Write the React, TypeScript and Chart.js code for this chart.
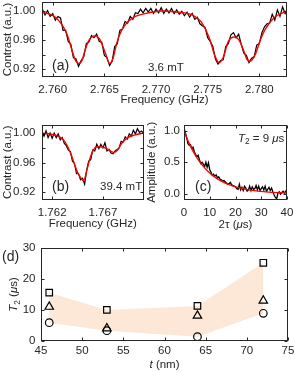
import React, { useEffect, useRef } from "react";
import { Chart, registerables } from "chart.js";

Chart.register(...registerables);

const W = 295;
const H = 372;
const FAMILY = '"Liberation Sans", Arial, Helvetica, sans-serif';
const INK = "#262626";
const RED = "#ff0000";
const BAND = "rgb(253,231,214)";
const TICK_FONT = 11.5;

// ---------- Panel (a): ODMR spectrum at 3.6 mT ----------
const A_FREQ = [
  2.759, 2.75925, 2.7595, 2.75975, 2.76, 2.76025, 2.7605, 2.76075, 2.761, 2.76125,
  2.7615, 2.76175, 2.762, 2.76225, 2.7625, 2.76275, 2.763, 2.76325, 2.7635, 2.76375,
  2.764, 2.76425, 2.7645, 2.76475, 2.765, 2.76525, 2.7655, 2.76575, 2.766, 2.76625,
  2.7665, 2.76675, 2.767, 2.76725, 2.7675, 2.76775, 2.768, 2.76825, 2.7685, 2.76875,
  2.769, 2.76925, 2.7695, 2.76975, 2.77, 2.77025, 2.7705, 2.77075, 2.771, 2.77125,
  2.7715, 2.77175, 2.772, 2.77225, 2.7725, 2.77275, 2.773, 2.77325, 2.7735, 2.77375,
  2.774, 2.77425, 2.7745, 2.77475, 2.775, 2.77525, 2.7755, 2.77575, 2.776, 2.77625,
  2.7765, 2.77675, 2.777, 2.77725, 2.7775, 2.77775, 2.778, 2.77825, 2.7785, 2.77875,
  2.779, 2.77925, 2.7795, 2.77975, 2.78, 2.78025, 2.7805, 2.78075, 2.781, 2.78125,
  2.7815, 2.78175, 2.782, 2.78225, 2.7825, 2.78275,
];
const A_DATA = [
  1.002, 0.994, 1.0, 0.992, 0.996, 0.987, 0.992, 0.99, 0.973, 0.973,
  0.958, 0.954, 0.936, 0.934, 0.924, 0.932, 0.937, 0.955, 0.957, 0.966,
  0.963, 0.968, 0.958, 0.957, 0.939, 0.936, 0.925, 0.931, 0.951, 0.955,
  0.973, 0.975, 0.985, 0.983, 0.992, 0.988, 0.997, 0.996, 1.002, 0.997,
  1.003, 0.998, 1.003, 0.996, 1.002, 0.997, 1.004, 0.996, 1.002, 0.997,
  1.003, 0.996, 1.001, 0.995, 0.999, 0.993, 0.998, 0.991, 0.996, 0.988,
  0.991, 0.982, 0.979, 0.977, 0.963, 0.958, 0.951, 0.934, 0.927, 0.932,
  0.933, 0.951, 0.955, 0.967, 0.97, 0.963, 0.968, 0.954, 0.942, 0.939,
  0.929, 0.935, 0.937, 0.953, 0.955, 0.97, 0.978, 0.982, 0.983, 0.995,
  0.987, 1.001, 0.992, 1.005, 0.996, 1.003,
];
const A_FIT_FREQ = [
  2.7589, 2.7599, 2.76054, 2.7612, 2.7615, 2.76184, 2.76216, 2.7625, 2.7628, 2.76315,
  2.7635, 2.7641, 2.7645, 2.7648, 2.76515, 2.7655, 2.76585, 2.7662, 2.7667, 2.7673,
  2.768, 2.7693, 2.7705, 2.772, 2.7735, 2.7745, 2.7752, 2.77571, 2.7761, 2.7765,
  2.777, 2.7776, 2.778, 2.77845, 2.7788, 2.7791, 2.7796, 2.7801, 2.78055, 2.7814,
  2.7827,
];
const A_FIT = [
  0.998, 0.994, 0.987, 0.9735, 0.963, 0.947, 0.9335, 0.928, 0.931, 0.947,
  0.9595, 0.9655, 0.962, 0.953, 0.94, 0.928, 0.9355, 0.956, 0.974, 0.985,
  0.992, 0.997, 0.9995, 0.998, 0.994, 0.982, 0.961, 0.938, 0.929, 0.936,
  0.958, 0.964, 0.9605, 0.947, 0.9335, 0.931, 0.94, 0.96, 0.974, 0.99,
  0.9995,
];
const A_X_TICKS = [2.76, 2.765, 2.77, 2.775, 2.78];
const A_Y_TICKS = [0.92, 0.94, 0.96, 0.98, 1.0];
const AB_Y_LABELED = [0.92, 0.96, 1.0];

// ---------- Panel (b): ODMR spectrum at 39.4 mT ----------
const B_FREQ = [
  1.761, 1.7612, 1.7614, 1.7616, 1.7618, 1.762, 1.7622, 1.7624, 1.7626, 1.7628,
  1.763, 1.7632, 1.7634, 1.7636, 1.7638, 1.764, 1.7642, 1.7644, 1.7646, 1.7648,
  1.765, 1.7652, 1.7654, 1.7656, 1.7658, 1.766, 1.7662, 1.7664, 1.7666, 1.7668,
  1.767, 1.7672, 1.7674, 1.7676, 1.7678, 1.768, 1.7682, 1.7684, 1.7686, 1.7688,
  1.769, 1.7692, 1.7694, 1.7696, 1.7698, 1.77, 1.7702, 1.7704, 1.7706, 1.7708,
  1.771,
];
const B_DATA = [
  1.002, 0.996, 1.003, 0.994, 1.0, 0.993, 1.0, 0.994, 0.999, 0.991,
  0.994, 0.986, 0.983, 0.977, 0.975, 0.962, 0.959, 0.945, 0.945, 0.937,
  0.939, 0.931, 0.95, 0.962, 0.964, 0.977, 0.976, 0.985, 0.979, 0.985,
  0.98, 0.987, 0.976, 0.978, 0.973, 0.972, 0.976, 0.978, 0.98, 0.989,
  0.988, 0.995, 0.992, 0.999, 0.996, 1.004, 0.999, 1.006, 1.001, 1.003,
  1.0,
];
const B_FIT_FREQ = [
  1.761, 1.7621, 1.763, 1.76345, 1.76394, 1.76426, 1.76459, 1.76492, 1.7651, 1.7654,
  1.76573, 1.76605, 1.7664, 1.7669, 1.76737, 1.76786, 1.7681, 1.7684, 1.76884, 1.7693,
  1.77, 1.771,
];
const B_FIT = [
  1.0, 0.998, 0.9925, 0.984, 0.9685, 0.9554, 0.9444, 0.9378, 0.9355, 0.9488,
  0.966, 0.977, 0.9815, 0.9812, 0.979, 0.975, 0.9738, 0.9764, 0.986, 0.9925,
  0.997, 1.0,
];
const B_X_TICKS = [1.762, 1.767];
const B_Y_TICKS = [0.92, 0.94, 0.96, 0.98, 1.0];

// ---------- Panel (c): Hahn echo decay ----------
const C_TIME = [
  0, 0.5, 1, 1.5, 2, 2.5, 3, 3.5, 4, 4.5,
  5, 5.5, 6, 6.5, 7, 7.5, 8, 8.5, 9, 9.5,
  10, 10.5, 11, 11.5, 12, 12.5, 13, 13.5, 14, 14.5,
  15, 15.5, 16, 16.5, 17, 17.5, 18, 18.5, 19, 19.5,
  20, 20.5, 21, 21.5, 22, 22.5, 23, 23.5, 24, 24.5,
  25, 25.5, 26, 26.5, 27, 27.5, 28, 28.5, 29, 29.5,
  30, 30.5, 31, 31.5, 32, 32.5, 33, 33.5, 34, 34.5,
  35, 35.5, 36, 36.5, 37, 37.5, 38, 38.5, 39, 39.5,
  40,
];
const C_DATA = [
  1.05, 0.97, 0.9, 0.8, 0.77, 0.78, 0.72, 0.74, 0.67, 0.62,
  0.59, 0.61, 0.54, 0.48, 0.5, 0.47, 0.43, 0.5, 0.42, 0.49,
  0.38, 0.34, 0.29, 0.31, 0.28, 0.3, 0.25, 0.27, 0.23, 0.22,
  0.2, 0.21, 0.19, 0.17, 0.15, 0.16, 0.18, 0.14, 0.13, 0.12,
  0.11, 0.08, 0.07, 0.15, 0.06, 0.1, 0.05, 0.12, 0.09, 0.04,
  0.06, 0.12, 0.05, 0.11, 0.07, 0.08, 0.13, 0.06, 0.12, 0.05,
  0.08, 0.11, 0.06, 0.12, 0.04, 0.07, 0.1, 0.05, 0.09, 0.03,
  -0.02, -0.06, -0.08, 0.01, 0.03, -0.01, 0.02, 0.04, 0.01, 0.04,
  0.03,
];
const C_FIT_TIME = [0, 1, 2, 3, 4, 5, 6, 8, 10, 12, 14, 16, 18, 20, 24, 28, 32, 36, 40];
const C_FIT = [
  1.0, 0.895, 0.8, 0.717, 0.641, 0.574, 0.513, 0.411, 0.329, 0.264,
  0.211, 0.169, 0.135, 0.108, 0.069, 0.045, 0.029, 0.018, 0.012,
];
const C_X_TICKS = [0, 10, 20, 30, 40];
const C_Y_TICKS = [0, 0.5, 1];

// ---------- Panel (d): T2 vs thickness ----------
const D_THICKNESS = [46, 53, 64, 72];
const D_SQUARES = [15.6, 10.0, 11.3, 25.3];
const D_TRIANGLES = [11.0, 4.0, 8.1, 13.0];
const D_CIRCLES = [5.85, 3.25, 1.3, 8.9];
const D_X_TICKS = [45, 50, 55, 60, 65, 70, 75];
const D_Y_TICKS = [0, 10, 20, 30];

// ---------- helpers ----------
type Run = { t: string; it?: boolean; sub?: boolean };
type Area = { left: number; right: number; top: number; bottom: number };
type Note = {
  runs: Run[];
  size: number;
  align: "left" | "center";
  rotate?: boolean;
  at: (a: Area) => [number, number];
};
type AxisSpec = {
  min: number;
  max: number;
  ticks: number[];
  fmt: (v: number) => string;
  pad: number;
};
type PanelSpec = {
  datasets: any[];
  x: AxisSpec;
  y: AxisSpec;
  padding: { left: number; top: number; right: number; bottom: number };
  notes: Note[];
};

const pts = (xs: number[], ys: number[]) => xs.map((x, i) => ({ x, y: ys[i] }));
const plain = (t: string): Run[] => [{ t }];
const midX = (a: Area) => (a.left + a.right) / 2;
const midY = (a: Area) => (a.top + a.bottom) / 2;

function drawNote(ctx: CanvasRenderingContext2D, n: Note, a: Area) {
  const [x, y] = n.at(a);
  const fontOf = (r: Run) =>
    `${r.it ? "italic " : ""}${r.sub ? n.size * 0.72 : n.size}px ${FAMILY}`;
  let total = 0;
  for (const r of n.runs) {
    ctx.font = fontOf(r);
    total += ctx.measureText(r.t).width;
  }
  ctx.save();
  ctx.translate(x, y);
  if (n.rotate) ctx.rotate(-Math.PI / 2);
  ctx.fillStyle = INK;
  ctx.textBaseline = "middle";
  ctx.textAlign = "left";
  let cx = n.align === "center" ? -total / 2 : 0;
  for (const r of n.runs) {
    ctx.font = fontOf(r);
    ctx.fillText(r.t, cx, r.sub ? n.size * 0.3 : 0);
    cx += ctx.measureText(r.t).width;
  }
  ctx.restore();
}

function framePlugin(notes: Note[]) {
  return {
    id: "frameAndNotes",
    afterDraw(chart: any) {
      const { ctx, chartArea: a, scales } = chart;
      const L = Math.round(a.left) + 0.5;
      const R = Math.round(a.right) - 0.5;
      const T = Math.round(a.top) + 0.5;
      const B = Math.round(a.bottom) - 0.5;
      const len = 3;
      ctx.save();
      ctx.strokeStyle = INK;
      ctx.lineWidth = 1;
      ctx.beginPath();
      for (const t of scales.x.ticks) {
        const p = Math.round(scales.x.getPixelForValue(t.value)) + 0.5;
        ctx.moveTo(p, B);
        ctx.lineTo(p, B - len);
        ctx.moveTo(p, T);
        ctx.lineTo(p, T + len);
      }
      for (const t of scales.y.ticks) {
        const p = Math.round(scales.y.getPixelForValue(t.value)) + 0.5;
        ctx.moveTo(L, p);
        ctx.lineTo(L + len, p);
        ctx.moveTo(R, p);
        ctx.lineTo(R - len, p);
      }
      ctx.stroke();
      ctx.strokeRect(L, T, R - L, B - T);
      ctx.restore();
      for (const n of notes) drawNote(ctx, n, a);
    },
  };
}

function axis(s: AxisSpec, dir: "x" | "y") {
  return {
    type: "linear",
    position: dir === "x" ? "bottom" : "left",
    min: s.min,
    max: s.max,
    grid: { display: false, drawTicks: false },
    border: { display: false },
    ticks: {
      autoSkip: false,
      maxRotation: 0,
      minRotation: 0,
      padding: s.pad,
      color: INK,
      font: { family: FAMILY, size: TICK_FONT },
      callback: (v: any) => s.fmt(Number(v)),
    },
    afterBuildTicks: (sc: any) => {
      sc.ticks = s.ticks.map((v) => ({ value: v }));
    },
    afterFit: (sc: any) => {
      if (dir === "x") sc.height = 30;
      else sc.width = 40;
      sc.paddingLeft = 0;
      sc.paddingRight = 0;
      sc.paddingTop = 0;
      sc.paddingBottom = 0;
    },
  };
}

function buildConfig(spec: PanelSpec): any {
  return {
    type: "line",
    data: { datasets: spec.datasets },
    options: {
      responsive: false,
      animation: false,
      devicePixelRatio: 1,
      events: [],
      layout: { padding: spec.padding },
      plugins: { legend: { display: false }, tooltip: { enabled: false } },
      scales: { x: axis(spec.x, "x"), y: axis(spec.y, "y") },
    },
    plugins: [framePlugin(spec.notes)],
  };
}

const near = (list: number[], v: number) => list.some((u) => Math.abs(u - v) < 1e-9);

const fitLine = (data: any[]) => ({
  data,
  borderColor: RED,
  borderWidth: 1.4,
  pointRadius: 0,
  cubicInterpolationMode: "monotone",
  fill: false,
  order: 0,
});
const rawLine = (data: any[], width: number) => ({
  data,
  borderColor: "#000",
  borderWidth: width,
  pointRadius: 0,
  tension: 0,
  fill: false,
  order: 1,
});
const markers = (data: any[], style: string, radius: number, order: number) => ({
  data,
  showLine: false,
  pointStyle: style,
  pointRadius: radius,
  pointBorderWidth: 1.2,
  pointBorderColor: "#000",
  pointBackgroundColor: "rgba(0,0,0,0)",
  borderColor: "#000",
  fill: false,
  order,
});

const contrastFmt = (v: number) => (near(AB_Y_LABELED, v) ? v.toFixed(2) : "");

const PANELS: PanelSpec[] = [
  {
    datasets: [fitLine(pts(A_FIT_FREQ, A_FIT)), rawLine(pts(A_FREQ, A_DATA), 1.2)],
    x: { min: 2.75896, max: 2.78268, ticks: A_X_TICKS, fmt: (v) => v.toFixed(3), pad: 6 },
    y: { min: 0.9095, max: 1.0117, ticks: A_Y_TICKS, fmt: contrastFmt, pad: 6.5 },
    padding: { left: 2, top: 2, right: 8, bottom: 265 },
    notes: [
      { runs: plain("(a)"), size: 14, align: "left", at: (a) => [a.left + 10, a.bottom - 10.5] },
      { runs: plain("3.6 mT"), size: 11.5, align: "left", at: (a) => [a.left + 106, a.bottom - 9] },
      { runs: plain("Contrast (a.u.)"), size: 11.5, align: "center", rotate: true, at: (a) => [a.left - 34.5, midY(a)] },
      { runs: plain("Frequency (GHz)"), size: 11.5, align: "center", at: (a) => [midX(a), a.bottom + 23] },
    ],
  },
  {
    datasets: [fitLine(pts(B_FIT_FREQ, B_FIT)), rawLine(pts(B_FREQ, B_DATA), 1.2)],
    x: { min: 1.761, max: 1.771, ticks: B_X_TICKS, fmt: (v) => v.toFixed(3), pad: 6 },
    y: { min: 0.9095, max: 1.0117, ticks: B_Y_TICKS, fmt: contrastFmt, pad: 6.5 },
    padding: { left: 2, top: 124.5, right: 151.5, bottom: 142 },
    notes: [
      { runs: plain("(b)"), size: 14, align: "left", at: (a) => [a.left + 10, a.bottom - 13.3] },
      { runs: plain("39.4 mT"), size: 11.5, align: "left", at: (a) => [a.left + 58, a.bottom - 13.3] },
      { runs: plain("Contrast (a.u.)"), size: 11.5, align: "center", rotate: true, at: (a) => [a.left - 34.5, midY(a)] },
      { runs: plain("Frequency (GHz)"), size: 11.5, align: "center", at: (a) => [midX(a), a.bottom + 23.5] },
    ],
  },
  {
    datasets: [fitLine(pts(C_FIT_TIME, C_FIT)), rawLine(pts(C_TIME, C_DATA), 1.3)],
    x: { min: 0, max: 40, ticks: C_X_TICKS, fmt: (v) => String(v), pad: 6 },
    y: { min: -0.1, max: 1.1, ticks: C_Y_TICKS, fmt: (v) => v.toFixed(1), pad: 4 },
    padding: { left: 144, top: 124.5, right: 8, bottom: 142 },
    notes: [
      { runs: plain("(c)"), size: 14, align: "left", at: (a) => [a.left + 11, a.bottom - 13] },
      {
        runs: [{ t: "T", it: true }, { t: "2", sub: true }, { t: " = 9 " }, { t: "μ", it: true }, { t: "s" }],
        size: 11.5,
        align: "left",
        at: (a) => [a.left + 54, a.top + 14],
      },
      { runs: plain("Amplitude (a.u.)"), size: 11.5, align: "center", rotate: true, at: (a) => [a.left - 32, midY(a)] },
      {
        runs: [{ t: "2τ (" }, { t: "μ", it: true }, { t: "s)" }],
        size: 11.5,
        align: "center",
        at: (a) => [midX(a), a.bottom + 24.5],
      },
    ],
  },
  {
    datasets: [
      markers(pts(D_THICKNESS, D_SQUARES), "rect", 4.6, 0),
      markers(pts(D_THICKNESS, D_TRIANGLES), "triangle", 4.9, 1),
      markers(pts(D_THICKNESS, D_CIRCLES), "circle", 3.8, 2),
      {
        data: pts(D_THICKNESS, D_SQUARES),
        borderColor: "rgba(0,0,0,0)",
        borderWidth: 0,
        pointRadius: 0,
        tension: 0,
        backgroundColor: BAND,
        fill: "+1",
        order: 10,
      },
      {
        data: pts(D_THICKNESS, D_CIRCLES),
        borderColor: "rgba(0,0,0,0)",
        borderWidth: 0,
        pointRadius: 0,
        tension: 0,
        fill: false,
        order: 11,
      },
    ],
    x: { min: 45, max: 75, ticks: D_X_TICKS, fmt: (v) => String(v), pad: 3 },
    y: { min: 0, max: 30, ticks: D_Y_TICKS, fmt: (v) => String(v), pad: 5.5 },
    padding: { left: 1, top: 248.3, right: 7, bottom: 1.3 },
    notes: [
      { runs: plain("(d)"), size: 14, align: "left", at: (a) => [a.left - 39, a.top + 8.5] },
      {
        runs: [{ t: "T", it: true }, { t: "2", sub: true }, { t: " (" }, { t: "μ", it: true }, { t: "s)" }],
        size: 11.5,
        align: "center",
        rotate: true,
        at: (a) => [a.left - 27, midY(a)],
      },
      {
        runs: [{ t: "t", it: true }, { t: " (nm)" }],
        size: 11.5,
        align: "center",
        at: (a) => [midX(a), a.bottom + 24],
      },
    ],
  },
];

function Panel({ spec }: { spec: PanelSpec }) {
  const ref = useRef<HTMLCanvasElement>(null);
  useEffect(() => {
    const chart = new Chart(ref.current as HTMLCanvasElement, buildConfig(spec));
    return () => chart.destroy();
  }, [spec]);
  return (
    <canvas
      ref={ref}
      width={W}
      height={H}
      style={{ position: "absolute", left: 0, top: 0, width: W, height: H }}
    />
  );
}

export default function App() {
  return (
    <div
      style={{
        position: "absolute",
        left: 0,
        top: 0,
        width: W,
        height: H,
        background: "#fff",
        overflow: "hidden",
      }}
    >
      {PANELS.map((p, i) => (
        <Panel key={i} spec={p} />
      ))}
    </div>
  );
}
